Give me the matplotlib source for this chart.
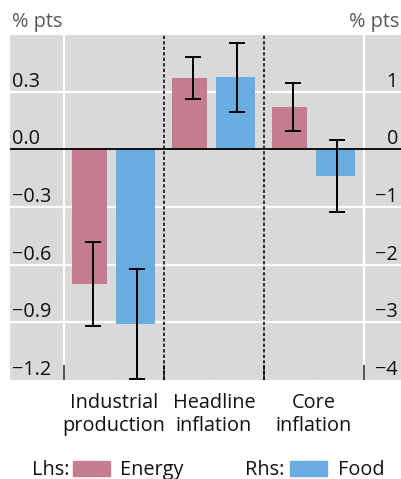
import matplotlib
matplotlib.use("Agg")
import matplotlib.pyplot as plt
from matplotlib.patches import Rectangle
import numpy as np

plt.rcParams['font.family'] = ['Open Sans', 'DejaVu Sans']

categories = ["Industrial\nproduction", "Headline\ninflation", "Core\ninflation"]
energy = [-0.70, 0.37, 0.22]          # left-hand scale
energy_err = [0.22, 0.11, 0.127]
food = [-3.03, 1.25, -0.46]           # right-hand scale
food_err = [0.96, 0.60, 0.63]
left_ticks = [0.3, 0.0, -0.3, -0.6, -0.9, -1.2]
left_labels = ["0.3", "0.0", "\u22120.3", "\u22120.6", "\u22120.9", "\u22121.2"]
right_ticks = [1, 0, -1, -2, -3, -4]
right_labels = ["1", "0", "\u22121", "\u22122", "\u22123", "\u22124"]

PINK = "#C47D8E"
BLUE = "#68ACE0"
BG = "#D9D9D9"
FS = 14.3

W, H = 401, 479
fig = plt.figure(figsize=(W / 100, H / 100), dpi=100)
ax = fig.add_axes([10 / W, 99 / H, 391 / W, 346 / H])
ax.set_facecolor(BG)
ax.set_xlim(-1.04, 2.87)
ax.set_ylim(-1.2, 0.6)
ax2 = ax.twinx()
ax2.set_ylim(-4, 2)

for a in (ax, ax2):
    for s in a.spines.values():
        s.set_visible(False)
    a.set_yticks([])

x = np.arange(len(categories))

# horizontal white gridlines and vertical boundary gridlines
for t in [0.6] + left_ticks[:-1]:
    if t != 0:
        ax.axhline(t, color="white", lw=1.6, zorder=0.5)
for xv in (-0.5, 2.5):
    ax.axvline(xv, color="white", lw=1.6, zorder=0.5)

# bars
ax.bar(x - 0.245, energy, width=0.35, color=PINK, zorder=2)
ax2.bar(x + 0.215, food, width=0.39, color=BLUE, zorder=2)

# error bars
ax.errorbar(x - 0.21, energy, yerr=energy_err, fmt="none", ecolor="black",
            elinewidth=1.4, capsize=5.8, capthick=1.4, zorder=3)
ax2.errorbar(x + 0.23, food, yerr=food_err, fmt="none", ecolor="black",
             elinewidth=1.4, capsize=5.8, capthick=1.4, zorder=3)

# zero line and group separators
ax2.axhline(0, color="black", lw=1.3, zorder=4)
for xv in (0.5, 1.5):
    ax2.axvline(xv, color="black", lw=1.1, dashes=(2.2, 1.4), zorder=4)

# ticks: inward marks at group boundaries, category labels at centres
ax.set_xticks([-0.5, 0.5, 1.5, 2.5])
ax.set_xticklabels([])
ax.tick_params(axis="x", which="major", direction="in", length=10.5,
               width=1.1, color="#222222")
ax.set_xticks(x, minor=True)
ax.set_xticklabels(categories, minor=True, fontsize=FS, linespacing=1.17)
ax.tick_params(axis="x", which="minor", direction="out", length=1.5,
               width=0.6, color="#e6e6e6", pad=8, labelcolor="#111111")

# y labels drawn inside the plot, sitting above their gridlines
for t, lab in zip(left_ticks, left_labels):
    ax.annotate(lab, xy=(2 / 391, t), xycoords=("axes fraction", "data"),
                xytext=(0, 10), textcoords="offset pixels",
                ha="left", va="center", fontsize=FS, color="#111111")
for t, lab in zip(right_ticks, right_labels):
    ax2.annotate(lab, xy=(388 / 391, t), xycoords=("axes fraction", "data"),
                 xytext=(0, 10), textcoords="offset pixels",
                 ha="right", va="center", fontsize=FS, color="#111111")

fig.text(12 / W, 1 - 22 / H, "% pts", ha="left", va="center",
         fontsize=FS, color="#595959")
fig.text(399 / W, 1 - 22 / H, "% pts", ha="right", va="center",
         fontsize=FS, color="#595959")

# legend row
ly = 1 - 470 / H
fig.text(32 / W, ly, "Lhs:", ha="left", va="center", fontsize=FS, color="#111111")
fig.patches.append(Rectangle((73 / W, 1 - 476 / H), 37 / W, 15 / H,
                             transform=fig.transFigure, color=PINK))
fig.text(120 / W, ly, "Energy", ha="left", va="center", fontsize=FS, color="#111111")
fig.text(245 / W, ly, "Rhs:", ha="left", va="center", fontsize=FS, color="#111111")
fig.patches.append(Rectangle((290 / W, 1 - 476 / H), 37 / W, 15 / H,
                             transform=fig.transFigure, color=BLUE))
fig.text(338 / W, ly, "Food", ha="left", va="center", fontsize=FS, color="#111111")

fig.savefig("out.png", dpi=100, facecolor="white")
